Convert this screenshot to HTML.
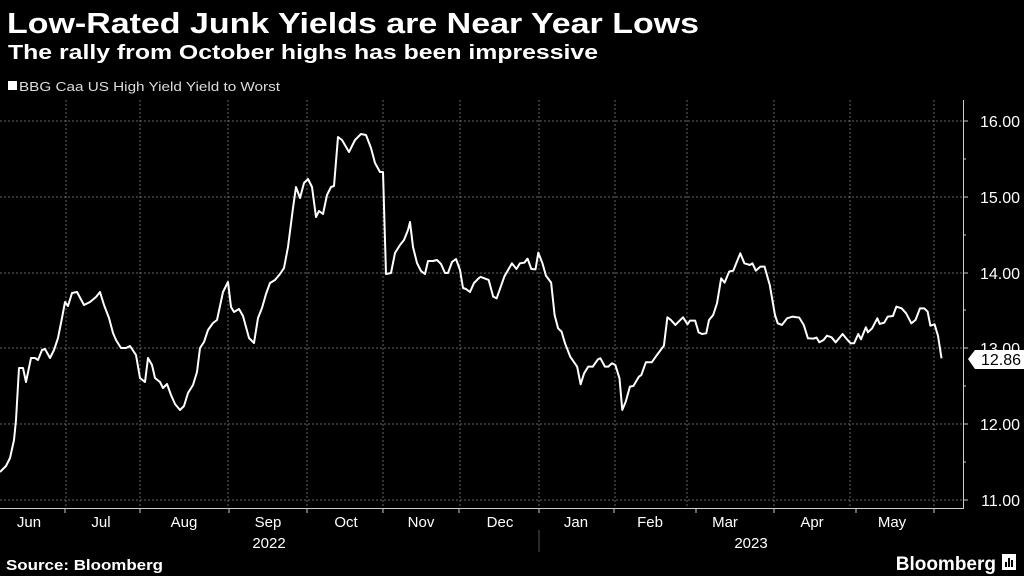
<!DOCTYPE html>
<html><head><meta charset="utf-8"><style>
body{margin:0;background:#000;width:1024px;height:576px;overflow:hidden;font-family:"Liberation Sans",sans-serif;color:#fff}
</style></head><body>
<svg width="1024" height="576" style="position:absolute;left:0;top:0">
<text x="7" y="33" fill="#fff" font-size="29" font-weight="bold" textLength="692" lengthAdjust="spacingAndGlyphs">Low-Rated Junk Yields are Near Year Lows</text>
<text x="8" y="59" fill="#fff" font-size="20" font-weight="bold" textLength="590" lengthAdjust="spacingAndGlyphs">The rally from October highs has been impressive</text>
<rect x="8" y="81" width="9" height="9" fill="#fff"/>
<text x="19" y="91" fill="#ddd" font-size="13" textLength="261" lengthAdjust="spacingAndGlyphs">BBG Caa US High Yield Yield to Worst</text>
<g stroke="#666" stroke-dasharray="2,2" stroke-width="1">
<line x1="0" x2="963" y1="121" y2="121"/><line x1="0" x2="963" y1="197" y2="197"/><line x1="0" x2="963" y1="273" y2="273"/><line x1="0" x2="963" y1="348" y2="348"/><line x1="0" x2="963" y1="424" y2="424"/><line x1="0" x2="963" y1="500" y2="500"/>
<line x1="66" x2="66" y1="100" y2="508"/><line x1="140" x2="140" y1="100" y2="508"/><line x1="228" x2="228" y1="100" y2="508"/><line x1="307" x2="307" y1="100" y2="508"/><line x1="383" x2="383" y1="100" y2="508"/><line x1="460" x2="460" y1="100" y2="508"/><line x1="539" x2="539" y1="100" y2="508"/><line x1="615" x2="615" y1="100" y2="508"/><line x1="687" x2="687" y1="100" y2="508"/><line x1="774" x2="774" y1="100" y2="508"/><line x1="850" x2="850" y1="100" y2="508"/><line x1="934" x2="934" y1="100" y2="508"/>
</g>
<g stroke="#ccc" stroke-width="1">
<line x1="0" x2="964" y1="508.5" y2="508.5"/>
<line x1="963.5" x2="963.5" y1="100" y2="509"/>
<line x1="963" x2="968" y1="121" y2="121"/><line x1="963" x2="966" y1="159" y2="159"/><line x1="963" x2="968" y1="197" y2="197"/><line x1="963" x2="966" y1="235" y2="235"/><line x1="963" x2="968" y1="273" y2="273"/><line x1="963" x2="966" y1="310" y2="310"/><line x1="963" x2="968" y1="348" y2="348"/><line x1="963" x2="966" y1="386" y2="386"/><line x1="963" x2="968" y1="424" y2="424"/><line x1="963" x2="966" y1="462" y2="462"/><line x1="963" x2="968" y1="500" y2="500"/>
<line x1="65" x2="65" y1="508" y2="513"/><line x1="140" x2="140" y1="508" y2="513"/><line x1="229" x2="229" y1="508" y2="513"/><line x1="307" x2="307" y1="508" y2="513"/><line x1="383" x2="383" y1="508" y2="513"/><line x1="459" x2="459" y1="508" y2="513"/><line x1="539" x2="539" y1="508" y2="513"/><line x1="614" x2="614" y1="508" y2="513"/><line x1="696" x2="696" y1="508" y2="513"/><line x1="774" x2="774" y1="508" y2="513"/><line x1="856" x2="856" y1="508" y2="513"/><line x1="934" x2="934" y1="508" y2="513"/>
<line x1="539" x2="539" y1="530" y2="552" stroke="#555"/>
</g>
<polyline fill="none" stroke="#fff" stroke-width="2" stroke-linejoin="round" points="0,472 6,466 10,458 14,440 16,420 19,368 23,368 26,382 31,358 35,358 38,360 42,350 45,349 50,358 54,350 58,338 62,318 65,302 68,306 72,293 77,292 84,305 90,302 96,297 100,292 104,305 109,318 113,333 116,340 121,348 126,348 130,346 136,355 140,378 145,382 148,358 152,365 155,378 160,382 163,388 167,384 171,395 175,404 180,410 184,406 188,393 193,385 197,372 200,348 204,342 208,330 213,323 217,320 223,292 228,282 231,307 234,312 239,309 243,316 249,338 254,343 258,318 262,308 266,294 270,283 275,280 280,274 284,268 288,247 293,208 296,187 300,198 304,183 308,179 312,187 316,217 319,211 323,214 327,195 331,187 334,186 338,137 342,140 349,152 355,140 361,134 366,135 371,148 375,163 380,172 383,172 386,274 391,273 395,253 400,245 404,240 408,230 410,222 413,247 417,263 421,271 425,274 428,261 433,261 437,260 441,264 445,273 448,273 452,262 456,259 460,270 463,288 466,289 470,292 474,283 480,277"/>
<g transform="translate(480,100) scale(0.347,0.3333)">
<polyline fill="none" stroke="#fff" stroke-width="2" vector-effect="non-scaling-stroke" stroke-linejoin="round" points="0,530 25,540 38,590 48,595 70,530 92,490 105,507 115,490 128,488 137,476 148,507 160,508 168,458 180,490 190,527 205,548 215,645 225,685 235,695 245,730 260,770 280,800 290,853 300,820 312,800 325,800 340,778 347,775 360,800 370,800 380,790 390,795 402,835 410,930 420,905 432,860 442,858 458,830 465,825 478,787 495,787 510,765 530,737 540,652 550,660 563,675 585,652 598,673 605,662 620,662 630,697 640,702 652,700 660,660 672,645 683,610 695,535 705,548 718,515 730,512 750,460 762,490 778,495 785,490 795,512 808,500 820,500 835,555 850,645 858,670 870,675 885,655 900,650 920,653 933,675 945,715 960,716 970,713 978,727 990,720 1000,707 1013,712 1025,727 1045,702 1055,715 1068,730 1078,730 1090,702 1098,718 1112,682 1118,697 1130,685 1145,655 1152,672 1165,668 1175,650 1190,648 1200,620 1215,625 1228,640 1243,670 1255,660 1268,625 1280,625 1290,635 1298,677 1310,673 1320,708 1330,775"/>
</g>
<g fill="#fff" font-size="16">
<text x="1020" y="127" text-anchor="end">16.00</text><text x="1020" y="203" text-anchor="end">15.00</text><text x="1020" y="279" text-anchor="end">14.00</text><text x="1020" y="354" text-anchor="end">13.00</text><text x="1020" y="430" text-anchor="end">12.00</text><text x="1020" y="506" text-anchor="end">11.00</text>
</g>
<polygon points="968,359 975,350 1024,350 1024,369 975,369" fill="#fff"/>
<text x="1021" y="365" text-anchor="end" fill="#000" font-size="16">12.86</text>
<g fill="#fff" font-size="15" text-anchor="middle">
<text x="29" y="527">Jun</text><text x="101" y="527">Jul</text><text x="184" y="527">Aug</text><text x="268" y="527">Sep</text><text x="346" y="527">Oct</text><text x="421" y="527">Nov</text><text x="500" y="527">Dec</text><text x="576" y="527">Jan</text><text x="650" y="527">Feb</text><text x="725" y="527">Mar</text><text x="812" y="527">Apr</text><text x="892" y="527">May</text>
<text x="269" y="548">2022</text><text x="751" y="548">2023</text>
</g>
<text x="6" y="570" fill="#fff" font-size="15" font-weight="bold" textLength="157" lengthAdjust="spacingAndGlyphs">Source: Bloomberg</text>
<text x="996" y="570" text-anchor="end" fill="#fff" font-size="19" font-weight="bold">Bloomberg</text>
<rect x="1002" y="554" width="14" height="16" fill="#fff"/>
<g fill="#000"><rect x="1005" y="562" width="2" height="5"/><rect x="1008" y="558" width="2" height="9"/><rect x="1011" y="560" width="2" height="7"/></g>
</svg>
</body></html>
